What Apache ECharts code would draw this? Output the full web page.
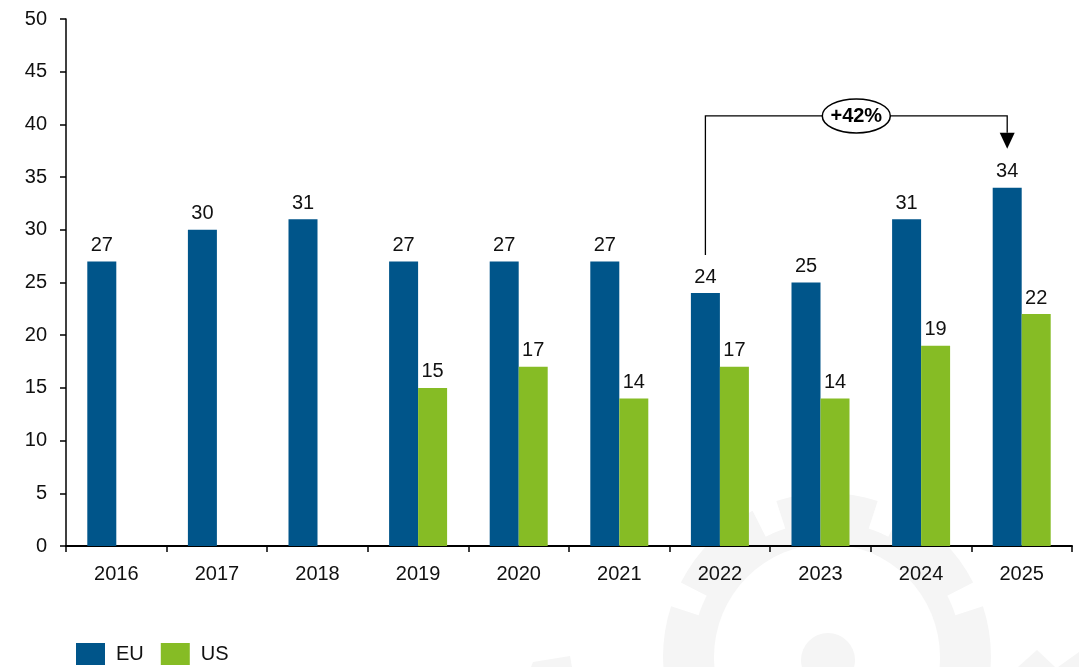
<!DOCTYPE html>
<html>
<head>
<meta charset="utf-8">
<script src="https://cdn.jsdelivr.net/npm/echarts@6/dist/echarts.min.js"></script>
<style>
  html, body { margin: 0; padding: 0; background: #ffffff; }
  #chart { width: 1079px; height: 667px; }
</style>
</head>
<body>
<div id="chart"></div>
<script>
// Yearly values for the two regions
const years = ['2016', '2017', '2018', '2019', '2020', '2021', '2022', '2023', '2024', '2025'];
const euValues = [27, 30, 31, 27, 27, 27, 24, 25, 31, 34];
const usValues = [null, null, null, 15, 17, 14, 17, 14, 19, 22];
const seriesNames = ['EU', 'US'];

// Growth bracket between two EU bars
const bracketFrom = 6;   // 2022
const bracketTo = 9;     // 2025
const growthPct = Math.round((euValues[bracketTo] / euValues[bracketFrom] - 1) * 100);
const growthText = '+' + growthPct + '%';

const FONT = '"Liberation Sans", Arial, sans-serif';
const EU_COLOR = '#00558a';
const US_COLOR = '#86bc25';
const BAR_W = 29;

const chart = echarts.init(document.getElementById('chart'), null, { renderer: 'canvas' });

const valueLabel = {
  show: true,
  position: 'top',
  distance: 6,
  color: '#111111',
  fontFamily: FONT,
  fontSize: 20
};

chart.setOption({
  animation: false,
  backgroundColor: '#ffffff',
  textStyle: { fontFamily: FONT },
  grid: { left: 66, right: 7, top: 19, bottom: 121, containLabel: false },
  legend: {
    left: 76,
    top: 643,
    padding: 0,
    itemWidth: 29,
    itemHeight: 22,
    itemGap: 17,
    icon: 'rect',
    data: seriesNames,
    textStyle: { color: '#111111', fontFamily: FONT, fontSize: 20, padding: [0, 0, 0, 6] }
  },
  xAxis: {
    type: 'category',
    data: years,
    boundaryGap: true,
    axisLine: { lineStyle: { color: '#000000', width: 2 } },
    axisTick: { show: true, length: 6, lineStyle: { color: '#000000', width: 1.5 } },
    axisLabel: { color: '#111111', fontFamily: FONT, fontSize: 20, margin: 18 },
    splitLine: { show: false }
  },
  yAxis: {
    type: 'value',
    min: 0,
    max: 50,
    interval: 5,
    axisLine: { show: true, lineStyle: { color: '#000000', width: 1.5 } },
    axisTick: { show: true, length: 6, lineStyle: { color: '#000000', width: 1.5 } },
    axisLabel: { color: '#111111', fontFamily: FONT, fontSize: 20, margin: 19 },
    splitLine: { show: false }
  },
  series: [
    {
      name: seriesNames[0],
      type: 'bar',
      data: euValues,
      barWidth: BAR_W,
      barGap: '0%',
      itemStyle: { color: EU_COLOR },
      label: valueLabel,
      z: 3
    },
    {
      name: seriesNames[1],
      type: 'bar',
      data: usValues,
      barWidth: BAR_W,
      barGap: '0%',
      itemStyle: { color: US_COLOR },
      label: valueLabel,
      z: 3
    }
  ]
});

// Faint gear watermark in the lower right, behind everything
function gearPoints(cx, cy, rOuter, rRoot, teeth, halfToothDeg) {
  const pts = [];
  const period = 360 / teeth;
  for (let i = 0; i < teeth; i++) {
    const a = i * period - 90;
    const segs = [
      [a - halfToothDeg, a + halfToothDeg, rOuter],
      [a + halfToothDeg, a + period - halfToothDeg, rRoot]
    ];
    segs.forEach(function (s) {
      for (let k = 0; k <= 8; k++) {
        const t = (s[0] + (s[1] - s[0]) * k / 8) * Math.PI / 180;
        pts.push([cx + s[2] * Math.cos(t), cy + s[2] * Math.sin(t)]);
      }
    });
  }
  return pts;
}

// Growth bracket drawn from the EU bar positions
function pixelOf(idx, val) {
  return chart.convertToPixel({ xAxisIndex: 0, yAxisIndex: 0 }, [idx, val]);
}
const fromTop = pixelOf(bracketFrom, euValues[bracketFrom]);
const toTop = pixelOf(bracketTo, euValues[bracketTo]);
const xFrom = fromTop[0] - BAR_W / 2;
const xTo = toTop[0] - BAR_W / 2;
const yLevel = pixelOf(0, 40.8)[1];
const yStart = fromTop[1] - 38;
const yTip = toTop[1] - 39;
const xMid = (xFrom + xTo) / 2;

const GEAR = '#f5f5f5';
const GX = 827, GY = 657;
const watermark = { silent: true, z: -1, style: { fill: GEAR } };
chart.setOption({
  graphic: [
    Object.assign({ type: 'polygon', z2: 0, shape: { points: gearPoints(GX, GY, 164, 135, 8, 18) } }, watermark),
    { type: 'circle', silent: true, z: -1, z2: 1, shape: { cx: GX, cy: GY, r: 113 }, style: { fill: '#ffffff' } },
    Object.assign({ type: 'circle', z2: 2, shape: { cx: GX + 1, cy: GY + 3, r: 27 } }, watermark),
    // edges of the outer watermark pieces near the bottom border
    Object.assign({ type: 'polygon', z2: 0, shape: { points: [[533, 662], [570, 656], [572, 667], [531, 667]] } }, watermark),
    Object.assign({ type: 'polygon', z2: 0, shape: { points: [[1018, 667], [1037, 650], [1055, 667]] } }, watermark),
    Object.assign({ type: 'polygon', z2: 0, shape: { points: [[1058, 667], [1079, 652], [1079, 667]] } }, watermark),
    {
      type: 'polyline', silent: true, z: 10,
      shape: { points: [[xFrom, yStart], [xFrom, yLevel], [xTo, yLevel], [xTo, yTip - 16]] },
      style: { stroke: '#000000', lineWidth: 1.3, fill: null }
    },
    {
      type: 'polygon', silent: true, z: 10,
      shape: { points: [[xTo - 7.5, yTip - 16], [xTo + 7.5, yTip - 16], [xTo, yTip]] },
      style: { fill: '#000000' }
    },
    {
      type: 'ellipse', silent: true, z: 11,
      shape: { cx: xMid, cy: yLevel, rx: 34, ry: 17 },
      style: { fill: '#ffffff', stroke: '#000000', lineWidth: 1.5 }
    },
    {
      type: 'text', silent: true, z: 12,
      x: xMid, y: yLevel + 1,
      style: {
        text: growthText,
        fill: '#000000',
        font: 'bold 20px ' + FONT,
        align: 'center',
        verticalAlign: 'middle'
      }
    }
  ]
});
</script>
</body>
</html>
